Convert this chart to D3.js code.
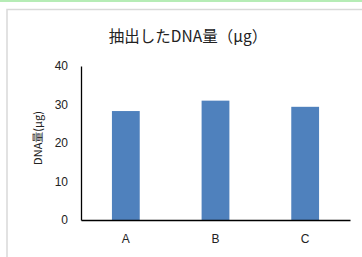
<!DOCTYPE html>
<html>
<head>
<meta charset="utf-8">
<script src="https://cdn.jsdelivr.net/npm/d3@7"></script>
<style>
  body { margin: 0; background: #fff; }
  svg { display: block; font-family: "Noto Sans CJK JP", "Open Sans", sans-serif; }
</style>
</head>
<body>
<svg id="chart" width="362" height="257"></svg>
<script>
// chart data
const categories = ['A', 'B', 'C'];
const values = [28.3, 31.0, 29.4];
const yTicks = [0, 10, 20, 30, 40];
const title = '抽出したDNA量（μg）';
const yTitle = 'DNA量(μg)';

const svg = d3.select('#chart');

// top green strip and chart frame
svg.append('rect').attr('x', 0).attr('y', 0).attr('width', 362).attr('height', 2).attr('fill', '#b6ecb6');
svg.append('path').attr('d', 'M7,257V9.5H362').attr('fill', 'none').attr('stroke', '#d9d9d9').attr('stroke-width', 1.5);

const margin = { left: 81, right: 12, top: 66, bottom: 37 };
const width = 362 - margin.left - margin.right;
const height = 257 - margin.top - margin.bottom;

const x = d3.scaleBand().domain(categories).range([0, width]).paddingInner(0.69).paddingOuter(0.345);
const y = d3.scaleLinear().domain([0, 40]).range([height, 0]);

const g = svg.append('g').attr('transform', `translate(${margin.left},${margin.top})`);

// bars
g.selectAll('rect.bar')
  .data(values)
  .enter()
  .append('rect')
  .attr('class', 'bar')
  .attr('x', (d, i) => x(categories[i]))
  .attr('y', d => y(d))
  .attr('width', x.bandwidth())
  .attr('height', d => y(0) - y(d))
  .attr('fill', '#4f81bd');

// y axis
const yAxis = g.append('g').call(d3.axisLeft(y).tickValues(yTicks).tickSize(0).tickPadding(13));
yAxis.select('.domain').attr('stroke', '#000').attr('stroke-width', 1.3);
yAxis.selectAll('text').attr('font-size', 12).attr('fill', '#222');

// x axis
const xAxis = g.append('g').attr('transform', `translate(0,${height})`)
  .call(d3.axisBottom(x).tickSize(0).tickPadding(14));
xAxis.select('.domain').attr('stroke', '#000').attr('stroke-width', 1.3);
xAxis.selectAll('text').attr('font-size', 12).attr('fill', '#222');

// titles
svg.append('text')
  .attr('x', 188).attr('y', 42)
  .attr('text-anchor', 'middle')
  .attr('font-size', 15.5)
  .attr('fill', '#222')
  .text(title);

svg.append('text')
  .attr('transform', 'translate(42,138) rotate(-90)')
  .attr('text-anchor', 'middle')
  .attr('font-size', 11)
  .attr('fill', '#222')
  .text(yTitle);
</script>
</body>
</html>
